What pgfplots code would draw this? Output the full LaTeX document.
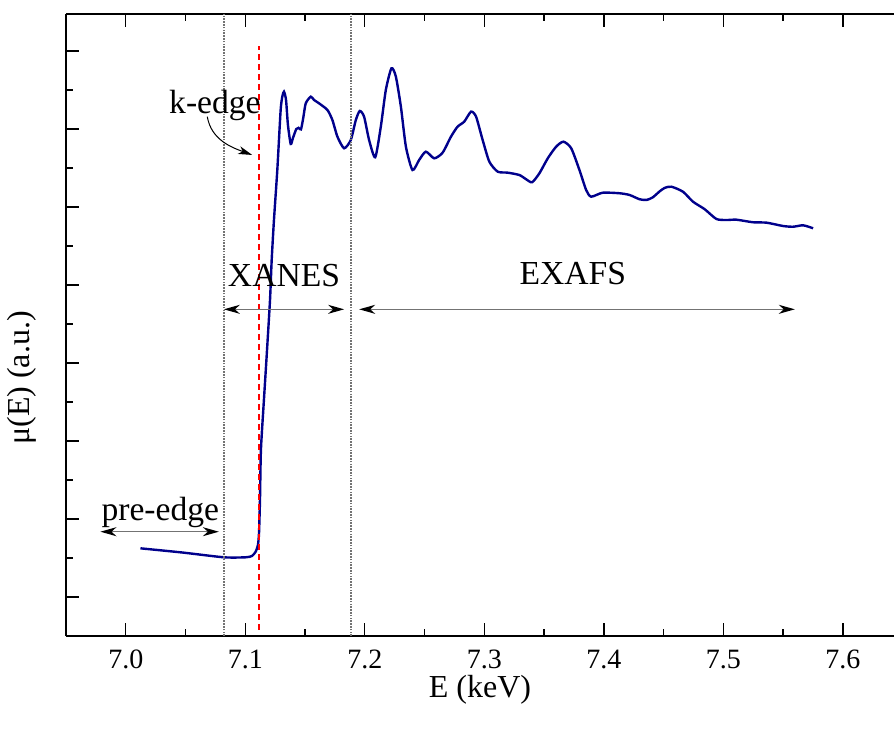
\documentclass[border=0pt]{standalone}
\usepackage{fontspec}
\setmainfont{Liberation Serif}
\usepackage{pgfplots}
\pgfplotsset{compat=1.18}
\usetikzlibrary{arrows.meta,calc}
\definecolor{curve}{RGB}{0,0,140}
\begin{document}
\begin{tikzpicture}
\begin{axis}[name=ax, scale only axis, width=414bp, height=311bp,
  xmin=6.95, xmax=7.6428, ymin=0.5, ymax=8.474,
  axis x line=box, axis y line*=left, tick align=inside,
  axis line style={line width=1bp},
  every tick/.style={black, line width=0.7bp},
  major tick length=6.5bp, minor tick length=3.5bp,
  xtick={7.0,7.1,7.2,7.3,7.4,7.5,7.6},
  xticklabels={7.0,7.1,7.2,7.3,7.4,7.5,7.6},
  minor xtick={7.05,7.15,7.25,7.35,7.45,7.55},
  ytick={1,2,3,4,5,6,7,8}, yticklabels={},
  minor ytick={1.5,2.5,3.5,4.5,5.5,6.5,7.5},
  /pgf/number format/assume math mode=true,
  tick label style={font=\fontsize{14bp}{16bp}\selectfont},
  xticklabel style={yshift=-3.5bp},
  xlabel={E (keV)}, ylabel={μ(E) (a.u.)},
  label style={font=\fontsize{16bp}{18bp}\selectfont},
  xlabel style={at={(axis description cs:0.5,-0.087)}, anchor=center},
  ylabel style={at={(axis description cs:-0.053,0.415)}, anchor=center, rotate=0},
  clip=false,
]
\addplot[curve, line width=1.2bp, smooth, tension=0.4] table {
x y
7.0123 1.624
7.0469 1.571
7.0821 1.509
7.1003 1.509
7.1056 1.526
7.1087 1.581
7.1106 1.667
7.1115 1.821
7.1123 2.244
7.1131 2.885
7.1156 3.526
7.1182 4.167
7.1207 4.808
7.1221 5.321
7.1240 5.833
7.1268 6.474
7.1296 7.244
7.1311 7.423
7.1324 7.478
7.1341 7.372
7.1357 7.051
7.1380 6.808
7.1399 6.885
7.1427 7.000
7.1446 7.015
7.1466 6.995
7.1485 7.141
7.1506 7.329
7.1548 7.414
7.1575 7.372
7.1617 7.329
7.1687 7.244
7.1729 7.115
7.1771 6.901
7.1827 6.753
7.1883 6.859
7.1925 7.115
7.1958 7.231
7.1994 7.158
7.2036 6.859
7.2087 6.637
7.2134 7.029
7.2176 7.500
7.2223 7.778
7.2260 7.671
7.2302 7.286
7.2344 6.773
7.2399 6.474
7.2455 6.603
7.2511 6.709
7.2581 6.624
7.2651 6.696
7.2721 6.901
7.2776 7.029
7.2832 7.094
7.2889 7.222
7.2931 7.158
7.2986 6.859
7.3042 6.581
7.3112 6.453
7.3195 6.440
7.3293 6.410
7.3350 6.355
7.3400 6.317
7.3461 6.432
7.3531 6.624
7.3601 6.773
7.3662 6.837
7.3727 6.753
7.3796 6.474
7.3852 6.218
7.3894 6.132
7.3991 6.183
7.4131 6.176
7.4215 6.154
7.4299 6.099
7.4358 6.090
7.4410 6.124
7.4467 6.200
7.4510 6.245
7.4565 6.260
7.4662 6.196
7.4746 6.068
7.4844 5.971
7.4942 5.846
7.5026 5.833
7.5109 5.837
7.5248 5.804
7.5361 5.799
7.5500 5.756
7.5584 5.747
7.5668 5.765
7.5751 5.727
};
\draw[black!55, dash pattern=on 0.8bp off 0.6bp, line width=0.7bp] (axis cs:7.0821,0.5) -- (axis cs:7.0821,8.474);
\draw[black!55, dash pattern=on 0.8bp off 0.6bp, line width=0.7bp] (axis cs:7.1886,0.5) -- (axis cs:7.1886,8.474);
\draw[red, dash pattern=on 3bp off 2bp, line width=0.7bp] (axis cs:7.1115,0.577) -- (axis cs:7.1115,8.07);
\begin{scope}[every node/.style={font=\fontsize{16.8bp}{19bp}\selectfont, anchor=base, inner sep=0pt}]
\node at (axis cs:7.0746,7.192) {k-edge};
\node at (axis cs:7.1324,4.978) {XANES};
\node at (axis cs:7.3740,5.0) {EXAFS};
\node at (axis cs:7.0289,1.978) {pre-edge};
\end{scope}
\draw[black!55, line width=0.7bp, {Stealth[length=8bp,width=4.5bp,inset=2.5bp,color=black]}-{Stealth[length=8bp,width=4.5bp,inset=2.5bp,color=black]}] (axis cs:7.0821,4.688) -- (axis cs:7.1827,4.688);
\draw[black!55, line width=0.7bp, {Stealth[length=8bp,width=4.5bp,inset=2.5bp,color=black]}-{Stealth[length=8bp,width=4.5bp,inset=2.5bp,color=black]}] (axis cs:7.1953,4.688) -- (axis cs:7.5598,4.688);
\draw[black!55, line width=0.7bp, {Stealth[length=8bp,width=4.5bp,inset=2.5bp,color=black]}-{Stealth[length=8bp,width=4.5bp,inset=2.5bp,color=black]}] (axis cs:6.9788,1.837) -- (axis cs:7.0779,1.837);
\draw[black, line width=0.5bp, -{Stealth[length=7bp,width=4bp,inset=2bp]}] (axis cs:7.0682,7.158) to[out=-80,in=160] (axis cs:7.1058,6.667);
\end{axis}
\pgfresetboundingbox
\path[use as bounding box] ($(ax.south west)+(-33bp,-47.5bp)$) rectangle ($(ax.south west)+(414bp,318bp)$);
\end{tikzpicture}
\end{document}
